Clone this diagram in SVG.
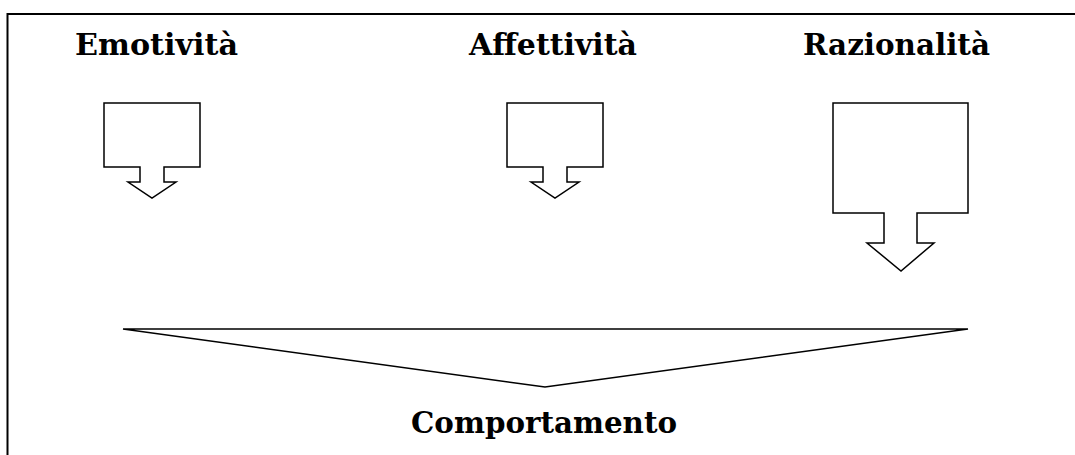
<svg xmlns="http://www.w3.org/2000/svg" width="1075" height="455" viewBox="0 0 1075 455">
  <style>
    .frame { fill: none; stroke: #000; stroke-width: 2; }
    .shape { fill: #fff; stroke: #000; stroke-width: 1.5; stroke-linejoin: miter; }
    .label { font-family: "DejaVu Serif", "Liberation Serif", serif; font-weight: bold; font-size: 30px; fill: #000; }
  </style>
  <rect width="1075" height="455" fill="#fff"/>
  <path class="frame" d="M7.5,455 L7.5,14 L1075,14"/>
  <g id="emotivita">
    <text class="label" x="75" y="55" textLength="163" lengthAdjust="spacingAndGlyphs">Emotività</text>
  </g>
  <g id="affettivita">
    <text class="label" x="469" y="55" textLength="168" lengthAdjust="spacingAndGlyphs">Affettività</text>
  </g>
  <g id="razionalita">
    <text class="label" x="803" y="55" textLength="187" lengthAdjust="spacingAndGlyphs">Razionalità</text>
  </g>
  <g id="comportamento">
    <text class="label" x="411" y="433" textLength="266" lengthAdjust="spacingAndGlyphs">Comportamento</text>
  </g>
  <g id="connectors">
    <polygon class="shape" points="104,103 200,103 200,167 164,167 164,182 176,182 152,198 128,182 140,182 140,167 104,167"/>
    <polygon class="shape" points="507,103 603,103 603,167 567,167 567,182 579,182 555,198 531,182 543,182 543,167 507,167"/>
    <polygon class="shape" points="833,103 968,103 968,213 917,213 917,243 934,243 901,271 867,243 884,243 884,213 833,213"/>
    <polygon class="shape" points="123,329 968,329 545,387"/>
  </g>
</svg>
